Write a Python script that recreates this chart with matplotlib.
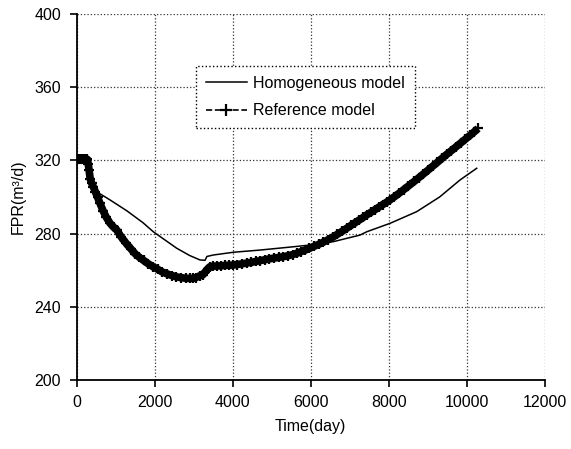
import matplotlib
matplotlib.use("Agg")
import matplotlib.pyplot as plt

plt.rcParams["font.family"] = ["Liberation Sans", "DejaVu Sans"]
plt.rcParams["font.size"] = 11.5

# homogeneous model (thin solid line)
homo_day = [0, 150, 300, 390, 430, 858, 1286, 1700, 1967, 2566, 2900, 3163, 3291,
            3340, 3504, 4016, 4700, 5553, 6000, 6578, 7262, 7433, 8030, 8714,
            9300, 9823, 10250]
homo_fpr = [321, 321, 320, 307.4, 304, 298.4, 292.5, 286, 281, 272, 268, 265.6, 265.4,
            267.5, 268.3, 269.8, 271, 272.8, 273.8, 275.6, 279.2, 281, 285.6, 292,
            300, 309.3, 315.7]

# reference model (dashed line with + markers)
ref_day = [0, 40, 80, 120, 160, 200, 240, 280, 300, 320, 350, 390, 430, 480, 540, 600,
           680, 760, 860, 950, 1030, 1150, 1270, 1400, 1500, 1600, 1720, 1830, 1950,
           2080, 2200, 2320, 2440, 2550, 2680, 2800, 2900, 2976, 3060, 3163, 3232,
           3300, 3360, 3420, 3500, 3600, 3700, 3800, 3900, 4000, 4120, 4240, 4360,
           4480, 4600, 4700, 4820, 4940, 5060, 5180, 5300, 5420, 5535, 5650, 5760,
           5860, 5962, 6080, 6200, 6320, 6440, 6558, 6680, 6800, 6920, 7040, 7140,
           7241, 7340, 7433, 7540, 7640, 7740, 7840, 7940, 8030, 8140, 8260, 8380,
           8500, 8650, 8760, 8880, 9000, 9120, 9240, 9360, 9483, 9600, 9720, 9840,
           9960, 10080, 10180, 10285]
ref_fpr = [321, 321, 321, 321, 321, 321, 321, 320.5, 318, 315, 310, 307.5, 305.6, 303,
           299.8, 296.6, 292.5, 289, 285.6, 283.5, 282, 278, 274.7, 271.5, 269, 267.2,
           265.3, 263.6, 262, 260.5, 259, 258, 257.1, 256.4, 255.9, 255.6, 255.5,
           255.5, 256, 257, 257.4, 259.2, 260.7, 261.9, 262.2, 262.3, 262.4, 262.6,
           262.7, 262.8, 263.1, 263.5, 263.9, 264.3, 264.8, 265.2, 265.7, 266.2, 266.6,
           267, 267.4, 267.9, 268.5, 269.3, 270.2, 271, 271.9, 273, 274.1, 275.3,
           276.6, 278, 279.6, 281.2, 282.9, 284.6, 286, 287.4, 288.8, 290.2, 291.6,
           293, 294.4, 295.8, 297.1, 298.4, 300.1, 302, 304, 306, 308.5, 310.4, 312.5,
           314.6, 316.8, 318.9, 321.1, 323.3, 325.3, 327.4, 329.5, 331.6, 333.7,
           335.5, 337.5]

fig = plt.figure(figsize=(5.71, 4.49), dpi=100)
ax = fig.add_axes([0.134, 0.1537, 0.8205, 0.8151])

ax.plot(homo_day, homo_fpr, color="black", lw=1.1, label="Homogeneous model")
# dense markers in the original merge into a solid band
ax.plot(ref_day, ref_fpr, color="black", lw=5.5, solid_capstyle="butt")
ax.plot(ref_day, ref_fpr, color="black", lw=1.2, ls="--", marker="+", ms=7,
        mew=1.6, label="Reference model")

ax.set_xlim(0, 12000)
ax.set_ylim(200, 400)
ax.set_xticks(range(0, 12001, 2000))
ax.set_yticks(range(200, 401, 40))
ax.grid(True, ls=":", color="#333333", lw=0.9)
for s in ["top", "right"]:
    ax.spines[s].set_visible(False)
for s in ["left", "bottom"]:
    ax.spines[s].set_linewidth(1.3)
ax.tick_params(direction="out", length=5, width=1.2, pad=6)

ax.set_xlabel("Time(day)", labelpad=6)
ax.set_ylabel("FPR(m³/d)", labelpad=6)

leg = ax.legend(loc="upper left", bbox_to_anchor=(0.255, 0.858), numpoints=1,
                handlelength=2.6, handletextpad=0.4, fancybox=False, borderpad=0.6,
                labelspacing=0.8, borderaxespad=0, framealpha=1)
leg.get_frame().set_edgecolor("black")
leg.get_frame().set_linestyle(":")
leg.get_frame().set_linewidth(1.0)
leg.legend_handles[1].set_markersize(8)
leg.legend_handles[1].set_linewidth(1.2)

fig.savefig("out.png", dpi=100)
